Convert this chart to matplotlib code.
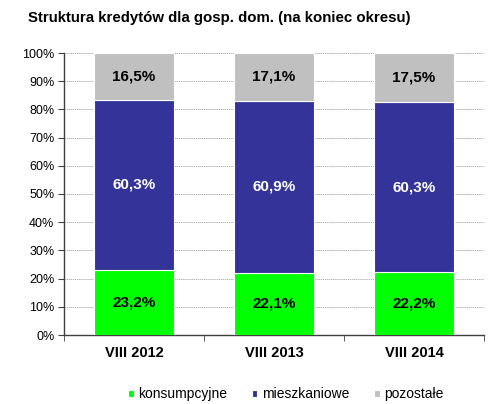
import matplotlib
matplotlib.use("Agg")
import matplotlib.pyplot as plt
import numpy as np

plt.rcParams['font.family'] = ['Liberation Sans', 'DejaVu Sans']

categories = ["VIII 2012", "VIII 2013", "VIII 2014"]
konsumpcyjne = [23.2, 22.1, 22.2]
mieszkaniowe = [60.3, 60.9, 60.3]
pozostale = [16.5, 17.1, 17.5]
series_names = ["konsumpcyjne", "mieszkaniowe", "pozostałe"]
colors = ["#00FF00", "#333399", "#C0C0C0"]
label_colors = ["black", "white", "black"]

fig = plt.figure(figsize=(4.93, 4.04), dpi=100)
ax = fig.add_axes([64/493, 1-335/404, 420/493, 282/404])

x = np.arange(len(categories))
bottom = np.zeros(len(categories))
handles = []
for vals, name, col, lc in zip([konsumpcyjne, mieszkaniowe, pozostale], series_names, colors, label_colors):
    vals = np.array(vals)
    b = ax.bar(x, vals, width=0.57, bottom=bottom, color=col, edgecolor="white", linewidth=0.8, label=name, zorder=3)
    handles.append(b)
    for xi, v, bo in zip(x, vals, bottom):
        ax.text(xi, bo + v/2, f"{v:.1f}%".replace(".", ","), ha="center", va="center",
                fontsize=11, fontweight="bold", color=lc, zorder=4)
    bottom += vals

ax.set_xlim(-0.5, len(categories)-0.5)
ax.set_ylim(0, 100)
ax.set_yticks(np.arange(0, 101, 10))
ax.set_yticklabels([f"{v}%" for v in range(0, 101, 10)], fontsize=9)
ax.set_xticks(x)
ax.set_xticklabels(categories, fontsize=10.5, fontweight="bold")
ax.set_xticks(np.arange(-0.5, len(categories), 1), minor=True)
ax.tick_params(axis="x", which="major", length=0, pad=8)
ax.tick_params(axis="x", which="minor", length=4, direction="out", color="#404040")
ax.tick_params(axis="y", length=4, direction="out", color="#404040", pad=3)

ax.yaxis.grid(True, linestyle=(0, (1.5, 1)), color="#A0A0A0", linewidth=0.6, zorder=0)
for s in ["top", "right"]:
    ax.spines[s].set_visible(False)
for s in ["left", "bottom"]:
    ax.spines[s].set_color("#404040")
    ax.spines[s].set_linewidth(1)

fig.text(28/493, 1-18/404, "Struktura kredytów dla gosp. dom. (na koniec okresu)",
         fontsize=10.8, fontweight="bold", ha="left", va="center")

fig.legend(handles=handles, labels=series_names, loc="center", bbox_to_anchor=(286/493, 1-394/404),
           ncol=3, frameon=False, fontsize=10, handlelength=0.4, handleheight=0.4,
           handletextpad=0.35, columnspacing=1.75)

fig.savefig("out.png", dpi=100)
